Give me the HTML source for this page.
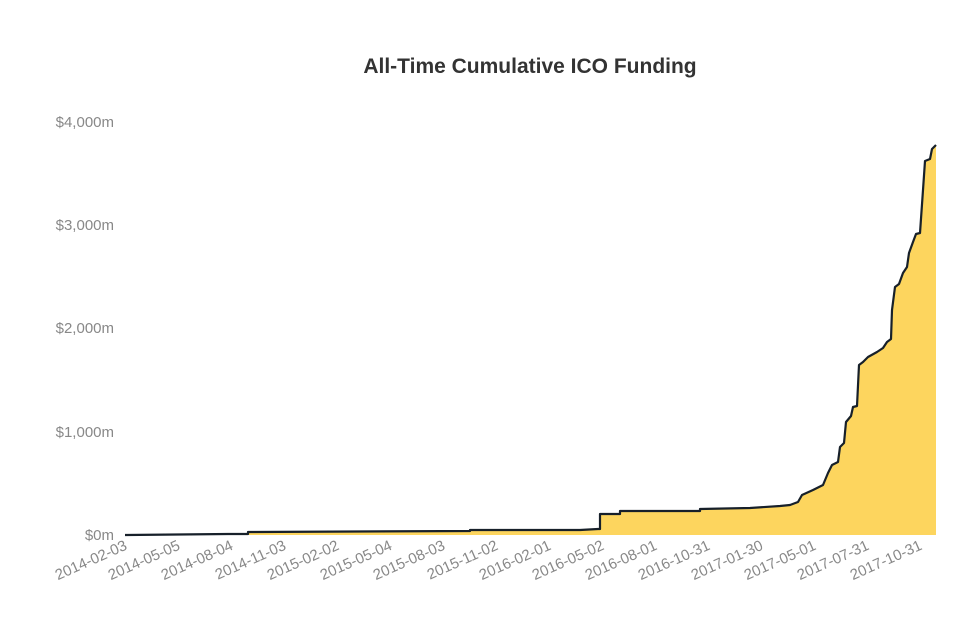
<!DOCTYPE html>
<html><head><meta charset="utf-8"><style>
body{margin:0;background:#fff;}
svg text{font-family:"Liberation Sans",sans-serif;}
</style></head><body>
<svg width="974" height="620" xmlns="http://www.w3.org/2000/svg">
<text x="530" y="73" text-anchor="middle" font-size="21" font-weight="bold" fill="#333">All-Time Cumulative ICO Funding</text>
<g font-size="15" fill="#888" text-anchor="end">
<text x="114" y="540">$0m</text>
<text x="114" y="437">$1,000m</text>
<text x="114" y="333">$2,000m</text>
<text x="114" y="230">$3,000m</text>
<text x="114" y="127">$4,000m</text>
</g>
<path d="M125,535 L125,535 L228,534 L248,534 L248,532 L470,531 L470,530 L580,530 L598,529 L600,529 L600,514 L620,514 L620,511 L700,511 L700,509 L750,508 L780,506 L790,505 L798,502 L802,495 L813,490 L823,485 L828,473 L832,465 L838,462 L840,447 L844,443 L846,422 L851,416 L853,407 L857,406 L859,365 L863,362 L868,357 L877,352 L883,348 L887,342 L891,339 L892,310 L895,287 L899,284 L903,273 L907,267 L909,253 L913,242 L916,234 L920,233 L923,190 L925,161 L930,159 L932,149 L936,145 L936,535 Z" fill="#fdd55e"/>
<path d="M125,535 L228,534 L248,534 L248,532 L470,531 L470,530 L580,530 L598,529 L600,529 L600,514 L620,514 L620,511 L700,511 L700,509 L750,508 L780,506 L790,505 L798,502 L802,495 L813,490 L823,485 L828,473 L832,465 L838,462 L840,447 L844,443 L846,422 L851,416 L853,407 L857,406 L859,365 L863,362 L868,357 L877,352 L883,348 L887,342 L891,339 L892,310 L895,287 L899,284 L903,273 L907,267 L909,253 L913,242 L916,234 L920,233 L923,190 L925,161 L930,159 L932,149 L936,145" fill="none" stroke="#17202a" stroke-width="2.2" stroke-linejoin="round"/>
<g font-size="15" fill="#888" text-anchor="end">
<text transform="translate(128,549) rotate(-24)">2014-02-03</text>
<text transform="translate(181,549) rotate(-24)">2014-05-05</text>
<text transform="translate(234,549) rotate(-24)">2014-08-04</text>
<text transform="translate(287,549) rotate(-24)">2014-11-03</text>
<text transform="translate(340,549) rotate(-24)">2015-02-02</text>
<text transform="translate(393,549) rotate(-24)">2015-05-04</text>
<text transform="translate(446,549) rotate(-24)">2015-08-03</text>
<text transform="translate(499,549) rotate(-24)">2015-11-02</text>
<text transform="translate(552,549) rotate(-24)">2016-02-01</text>
<text transform="translate(605,549) rotate(-24)">2016-05-02</text>
<text transform="translate(658,549) rotate(-24)">2016-08-01</text>
<text transform="translate(711,549) rotate(-24)">2016-10-31</text>
<text transform="translate(764,549) rotate(-24)">2017-01-30</text>
<text transform="translate(817,549) rotate(-24)">2017-05-01</text>
<text transform="translate(870,549) rotate(-24)">2017-07-31</text>
<text transform="translate(923,549) rotate(-24)">2017-10-31</text>
</g>
</svg>
</body></html>
